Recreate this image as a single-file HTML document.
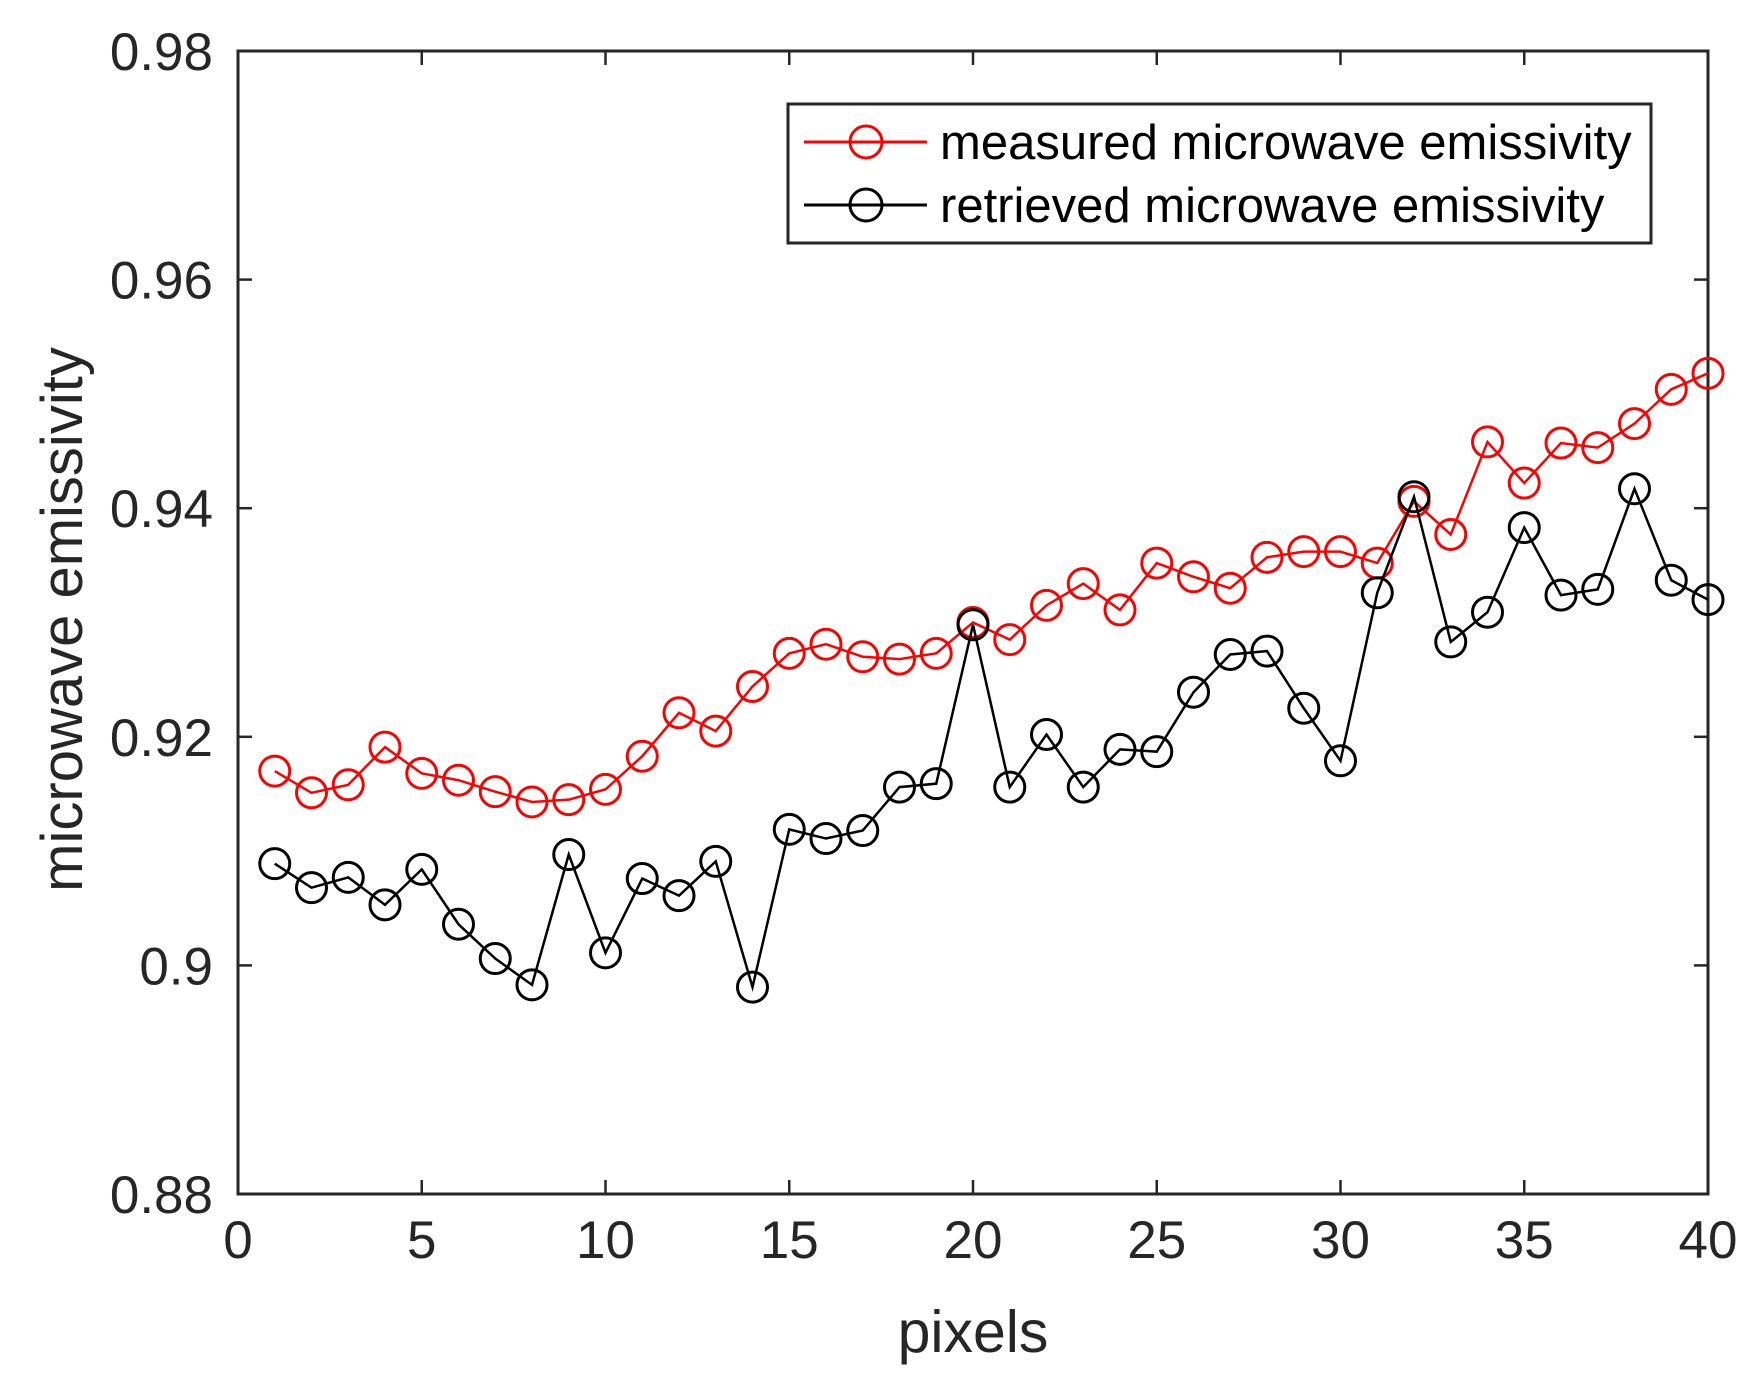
<!DOCTYPE html>
<html><head><meta charset="utf-8"><style>
html,body{margin:0;padding:0;background:#fff;}
svg{display:block;font-family:"Liberation Sans",Arial,sans-serif;}
</style></head><body>
<svg id="chart" width="1758" height="1385" viewBox="0 0 1758 1385"></svg>
<script>
const xTicks = [0,5,10,15,20,25,30,35,40];
const yTicks = [0.88,0.9,0.92,0.94,0.96,0.98];
const yTickLabels = ["0.88","0.9","0.92","0.94","0.96","0.98"];
const pixels = Array.from({length:40},(_,i)=>i+1);
const measured = [0.917,0.9151,0.9158,0.9191,0.9168,0.9162,0.9152,0.9143,0.9145,0.9154,
0.9183,0.9221,0.9205,0.9244,0.9273,0.9281,0.927,0.9268,0.9273,0.930,
0.9285,0.9315,0.9334,0.9311,0.9352,0.934,0.933,0.9357,0.9362,0.9362,
0.9352,0.9406,0.9377,0.9458,0.9422,0.9457,0.9453,0.9474,0.9504,0.9518];
const retrieved = [0.9089,0.9068,0.9077,0.9053,0.9084,0.9036,0.9006,0.8983,0.9097,0.9011,
0.9076,0.9061,0.9091,0.8981,0.9119,0.9111,0.9118,0.9156,0.9159,0.9298,
0.9156,0.9202,0.9156,0.9189,0.9187,0.9239,0.9272,0.9275,0.9225,0.9179,
0.9326,0.941,0.9283,0.9309,0.9383,0.9324,0.9329,0.9417,0.9337,0.932];

const L=238,R=1708,T=51,B=1194;
const xs=v=>L+(v-0)/(40-0)*(R-L);
const ys=v=>B-(v-0.88)/(0.98-0.88)*(B-T);
const svg=document.getElementById('chart');
const NS='http://www.w3.org/2000/svg';
function mk(tag,attrs,parent){const e=document.createElementNS(NS,tag);for(const k in attrs)e.setAttribute(k,attrs[k]);(parent||svg).appendChild(e);return e;}

const box=mk('rect',{x:L,y:T,width:R-L,height:B-T,fill:'none',stroke:'#262626','stroke-width':3});



xTicks.forEach(t=>{
  const x=xs(t);
  const l1=mk('line',{x1:x,x2:x,y1:B,y2:B-14,stroke:'#262626','stroke-width':2.5});
  
  
  const l2=mk('line',{x1:x,x2:x,y1:T,y2:T+14,stroke:'#262626','stroke-width':2.5});
  
  
  const tx=mk('text',{x:x,y:B+64,'font-size':53,'text-anchor':'middle',fill:'#262626'});
  tx.textContent=String(t);
  
  
});
yTicks.forEach((t,i)=>{
  const y=ys(t);
  const l1=mk('line',{x1:L,x2:L+14,y1:y,y2:y,stroke:'#262626','stroke-width':2.5});
  
  
  const l2=mk('line',{x1:R,x2:R-14,y1:y,y2:y,stroke:'#262626','stroke-width':2.5});
  
  
  const tx=mk('text',{x:213,y:y+19,'font-size':53,'text-anchor':'end',fill:'#262626'});
  tx.textContent=yTickLabels[i];
  
  
});

const xt=mk('text',{x:(L+R)/2,y:1352,'font-size':59,'text-anchor':'middle',fill:'#262626'});
xt.textContent='pixels';


const yt=mk('text',{x:0,y:0,'font-size':58,'text-anchor':'middle',fill:'#262626',transform:'translate(82,'+((T+B)/2-3)+') rotate(-90)'});
yt.textContent='microwave emissivity';



function series(vals,color,name){
  const g=mk('g',{});
  
  
  const pts=vals.map((v,i)=>xs(pixels[i])+','+ys(v)).join(' ');
  const pl=mk('polyline',{points:pts,fill:'none',stroke:color,'stroke-width':2.5},g);
  
  
  vals.forEach((v,i)=>{
    const c=mk('circle',{cx:xs(pixels[i]),cy:ys(v),r:15,fill:'none',stroke:color,'stroke-width':3},g);
    
    
  });
}
series(measured,'#ff0000','measured-series');
series(retrieved,'#000000','retrieved-series');

const lg=mk('g',{});


const lb=mk('rect',{x:788,y:104,width:863,height:139,fill:'#fff',stroke:'#262626','stroke-width':3},lg);


[['#ff0000',142,'measured microwave emissivity','legend-entry-measured'],['#000000',205,'retrieved microwave emissivity','legend-entry-retrieved']].forEach(e=>{
  const g=mk('g',{},lg);
  
  
  mk('line',{x1:804,x2:927,y1:e[1],y2:e[1],stroke:e[0],'stroke-width':3},g);
  mk('circle',{cx:866,cy:e[1],r:16,fill:'none',stroke:e[0],'stroke-width':3},g);
  const t=mk('text',{x:940,y:e[1]+17,'font-size':49,fill:'#000'},g);
  t.textContent=e[2];
});
</script>
</body></html>
